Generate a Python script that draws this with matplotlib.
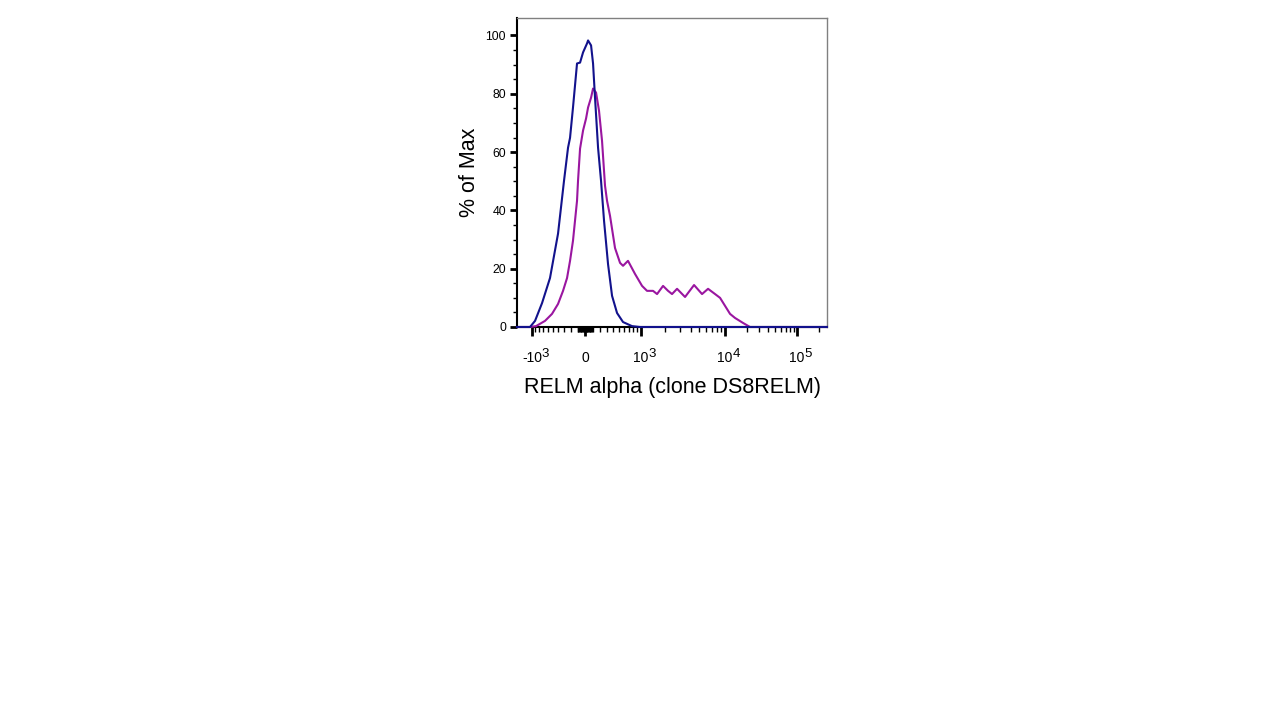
import numpy as np
import matplotlib
matplotlib.use("Agg")
import matplotlib.pyplot as plt

plt.rcParams['font.family'] = ['Liberation Sans', 'DejaVu Sans']

# fluorescence values (data units) and % of max
blue_x = [-1556, -1063, -912, -729, -553, -402, -302, -240, -210, -167, -110, -68, -27,
          26, 39, 78, 104, 130, 171, 212, 255, 314, 377, 461, 572, 765, 972, 260000]
blue_y = [0, 0, 2.1, 8.2, 16.8, 32.0, 50.2, 61.5, 64.9, 75.3, 90.4, 90.7, 94.2,
          97.3, 98.3, 96.6, 90.4, 78.7, 61.5, 50.2, 36.4, 21.6, 10.7, 4.8, 1.7, 0.3, 0, 0]

purple_x = [-1556, -1063, -884, -659, -513, -402, -318, -255, -210, -167, -110, -96, -68, -27,
            13, 39, 78, 104, 144, 184, 226, 269, 299, 345, 426, 515, 572, 674, 838,
            1031, 1193, 1417, 1587, 1875, 2152, 2400, 2752, 3417, 4356, 5400, 6344, 7656,
            8752, 11737, 13770, 17770, 22230, 260000]
purple_y = [0, 0, 0.3, 2.1, 4.5, 7.9, 12.4, 16.8, 22.7, 29.6, 43.3, 50.2, 61.2, 67.4,
            71.5, 75.3, 78.7, 81.8, 80.4, 74.2, 63.9, 48.5, 43.3, 38.1, 27.1, 22.0, 21.0, 22.7, 18.2,
            14.1, 12.4, 12.4, 11.3, 14.1, 12.4, 11.3, 13.1, 10.3, 14.4, 11.3, 13.1, 11.3,
            10.0, 4.5, 3.1, 1.4, 0, 0]

major_ticks = [-1000, 0, 1000, 10000, 100000]
tick_base = ['-10', '0', '10', '10', '10']
tick_exp = ['3', '', '3', '4', '5']
y_ticks = [0, 20, 40, 60, 80, 100]

# biexponential-ish display: arcsinh, then stretched to match the decade widths
W = 500.0
knot_u = np.arcsinh(np.array(major_ticks, float) / W)
knot_d = np.array([0., 53., 109., 193., 265.])


def _lin(x, xp, fp):
    x = np.asarray(x, float)
    y = np.interp(x, xp, fp)
    y = np.where(x < xp[0], fp[0] + (x - xp[0]) * (fp[1] - fp[0]) / (xp[1] - xp[0]), y)
    y = np.where(x > xp[-1], fp[-1] + (x - xp[-1]) * (fp[-1] - fp[-2]) / (xp[-1] - xp[-2]), y)
    return y


def fwd(v):
    return _lin(np.arcsinh(np.asarray(v, float) / W), knot_u, knot_d)


def inv(d):
    return W * np.sinh(_lin(d, knot_d, knot_u))


fig = plt.figure(figsize=(12.86, 7.26), dpi=100)
ax = fig.add_axes([517 / 1286, 1 - 327 / 726, 310 / 1286, 309 / 726])
ax.set_xscale('function', functions=(fwd, inv))

ax.plot(purple_x, purple_y, color='#9a16a0', lw=1.5, clip_on=False, zorder=3)
ax.plot(blue_x, blue_y, color='#12128c', lw=1.5, clip_on=False, zorder=4)

ax.set_xlim(-1556, 260700)
ax.set_ylim(0, 106)

minor = np.concatenate([np.arange(-900, -99, 100), np.arange(-90, 0, 10),
                        np.arange(10, 100, 10), np.arange(100, 1000, 100),
                        np.arange(2000, 10000, 1000), np.arange(20000, 100000, 10000),
                        [200000]])
ax.set_xticks(major_ticks, labels=tick_base)
ax.set_xticks(minor, minor=True)
ax.set_yticks(y_ticks)
ax.set_yticks(np.arange(5, 105, 5), minor=True)

ax.tick_params(axis='x', which='major', length=6.5, width=2, pad=18.5, labelsize=10)
ax.tick_params(axis='x', which='minor', length=3.5, width=1)
ax.tick_params(axis='y', which='major', length=5, width=2, pad=3, labelsize=8.8)
ax.tick_params(axis='y', which='minor', length=3, width=1)
for t in ax.get_xticklabels():
    t.set_verticalalignment('baseline')

# superscript exponents, same size as the base digits
for val, base, e in zip(major_ticks, tick_base, tick_exp):
    if not e:
        continue
    dx = 7.0 if base.startswith('-') else 5.4
    ax.annotate(e, xy=(val, 0), xycoords=('data', 'axes fraction'),
                xytext=(dx, -21.4), textcoords='offset points',
                ha='left', va='baseline', fontsize=9.5, annotation_clip=False)

for s in ['top', 'right']:
    ax.spines[s].set_color('#808080')
    ax.spines[s].set_linewidth(1)
for s in ['left', 'bottom']:
    ax.spines[s].set_color('black')
    ax.spines[s].set_linewidth(1.5)

ax.set_xlabel('RELM alpha (clone DS8RELM)', fontsize=15.5, labelpad=9)
ax.set_ylabel('% of Max', fontsize=15.5, labelpad=3.8)

fig.savefig('out.png', dpi=100)
